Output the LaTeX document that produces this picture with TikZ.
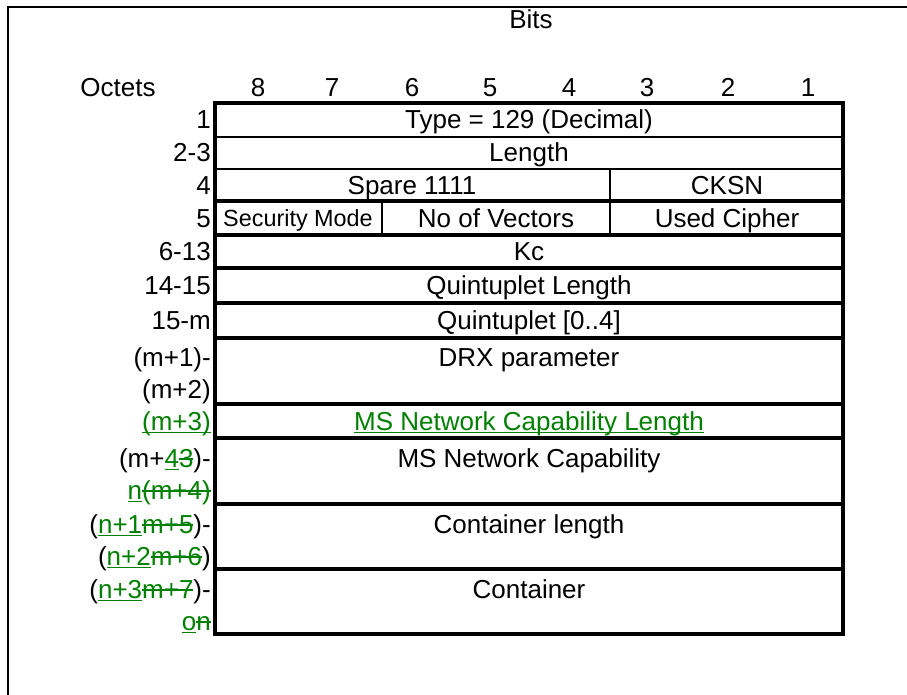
\documentclass[tikz,border=0pt]{standalone}
\usepackage{fontspec}
\setmainfont{Liberation Sans}
\definecolor{grn}{RGB}{0,128,0}
\newcommand{\insg}[1]{{\color{grn}\setbox0\hbox{#1}\rlap{\rule[-3.4pt]{\wd0}{1.8pt}}\box0}}
\newcommand{\delg}[1]{{\color{grn}\setbox0\hbox{#1}\rlap{\rule[7.2pt]{\wd0}{1.8pt}}\box0}}
\tikzset{
  txt/.style={inner sep=0pt, anchor=base, font=\fontsize{26}{32}\selectfont},
  oct/.style={inner sep=0pt, anchor=base east, font=\fontsize{26}{32}\selectfont},
  small/.style={inner sep=0pt, anchor=base, font=\fontsize{23.4}{28}\selectfont},
  thick line/.style={line width=3.4pt},
  thin line/.style={line width=1.7pt},
  frame line/.style={line width=2.4pt}
}
\begin{document}
\begin{tikzpicture}[x=1pt,y=-1pt]
\clip (0,0) rectangle (907,695);
\fill[white] (0,0) rectangle (907,695);
% outer frame
\draw[frame line] (8,710) -- (8,7) -- (920,7);
% header
\node[txt] (bits) at (531,29) {Bits};
\node[txt] (octets) at (118,97) {Octets};
\foreach \n/\x in {8/258,7/332,6/412,5/490,4/569,3/647,2/728,1/808}
  \node[txt] (bit\n) at (\x,97) {\n};
% table lines
\draw[thin line] (215,137) -- (843,137);
\draw[thin line] (215,169) -- (843,169);
\foreach \y in {201,235,268,303,338,404,438,504,569}
  \draw[thick line] (215,\y) -- (843,\y);
\draw[thin line] (610,169) -- (610,201);
\draw[thin line] (382,201) -- (382,235);
\draw[thin line] (610,201) -- (610,235);
\draw[thick line] (215,103) rectangle (843,634);
% octet labels
\node[oct] (o1) at (211,129) {1};
\node[oct] (o2) at (211,162) {2-3};
\node[oct] (o4) at (211,194) {4};
\node[oct] (o5) at (211,227) {5};
\node[oct] (o6) at (211,260) {6-13};
\node[oct] (o14) at (211,294) {14-15};
\node[oct] (o15) at (211,329) {15-m};
\node[oct] (om1) at (211,366) {(m+1)-};
\node[oct] (om1b) at (211,398) {(m+2)};
\node[oct] (om3) at (211,430) {\insg{(m+3)}};
\node[oct] (om4) at (211,467) {(m+\insg{4}\delg{3})-};
\node[oct] (om4b) at (211,499) {\insg{n}\delg{(m+4)}};
\node[oct] (on1) at (211,533) {(\insg{n+1}\delg{m+5})-};
\node[oct] (on1b) at (211,565) {(\insg{n+2}\delg{m+6})};
\node[oct] (on3) at (211,598) {(\insg{n+3}\delg{m+7})-};
\node[oct] (on3b) at (211,630) {\insg{o}\delg{n}};
% cell texts
\node[txt] (c1) at (529,129) {Type = 129 (Decimal)};
\node[txt] (c2) at (529,162) {Length};
\node[txt] (c4a) at (412,194) {Spare 1111};
\node[txt] (c4b) at (727,194) {CKSN};
\node[small] (c5a) at (298,226) {Security Mode};
\node[txt] (c5b) at (496,227) {No of Vectors};
\node[txt] (c5c) at (727,227) {Used Cipher};
\node[txt] (c6) at (529,260) {Kc};
\node[txt] (c14) at (529,294) {Quintuplet Length};
\node[txt] (c15) at (529,329) {Quintuplet [0..4]};
\node[txt] (cdrx) at (529,366) {DRX parameter};
\node[txt] (cmsl) at (529,430) {\insg{MS Network Capability Length}};
\node[txt] (cms) at (529,467) {MS Network Capability};
\node[txt] (ccl) at (529,533) {Container length};
\node[txt] (cc) at (529,598) {Container};
\end{tikzpicture}
\end{document}
